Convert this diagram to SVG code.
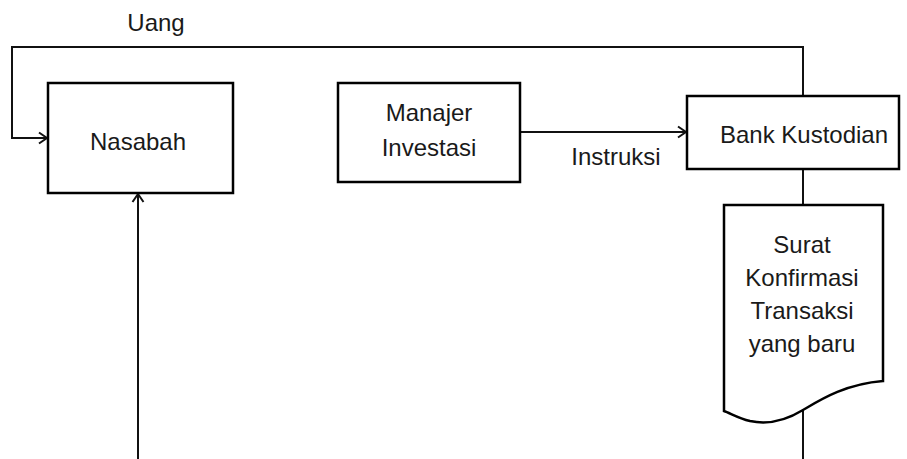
<svg xmlns="http://www.w3.org/2000/svg" width="907" height="459" viewBox="0 0 907 459">
<style>
.box{fill:#fff;stroke:#000;stroke-width:2.5}
.ln{fill:none;stroke:#111;stroke-width:2}
.t{font-family:"Liberation Sans",Arial,sans-serif;font-size:24px;fill:#1a1a1a;text-anchor:middle}
</style>
<defs>
<marker id="ah" markerWidth="14" markerHeight="14" refX="12" refY="7" orient="auto" markerUnits="userSpaceOnUse">
<polyline points="4,1.5 12,7 4,12.5" fill="none" stroke="#111" stroke-width="2"/>
</marker>
</defs>
<rect width="907" height="459" fill="#fff"/>
<g id="connectors">
<polyline class="ln" points="803,96 803,47 12,47 12,138 47,138" marker-end="url(#ah)"/>
<line class="ln" x1="520" y1="132" x2="686" y2="132" marker-end="url(#ah)"/>
<line class="ln" x1="138" y1="459" x2="138" y2="194" marker-end="url(#ah)"/>
<line class="ln" x1="803" y1="169" x2="803" y2="205"/>
<line class="ln" x1="803" y1="410" x2="803" y2="459"/>
<text class="t" x="156" y="31">Uang</text>
<text class="t" x="616" y="165">Instruksi</text>
</g>
<g id="nasabah">
<rect class="box" x="48" y="83" width="185" height="110"/>
<text class="t" x="138" y="150">Nasabah</text>
</g>
<g id="manajer">
<rect class="box" x="338" y="83" width="182" height="99"/>
<text class="t" x="429" y="121">Manajer</text>
<text class="t" x="429" y="156">Investasi</text>
</g>
<g id="bank">
<rect class="box" x="687" y="96" width="212" height="73"/>
<text class="t" x="804" y="143">Bank Kustodian</text>
</g>
<g id="surat">
<path class="box" d="M724,205 H883 V381 C845,384 820,400 803,410 C785,421 768,425 750,421 C738,418 730,413 724,411 Z"/>
<text class="t" x="802" y="253">Surat</text>
<text class="t" x="802" y="286">Konfirmasi</text>
<text class="t" x="802" y="319">Transaksi</text>
<text class="t" x="802" y="352">yang baru</text>
</g>
</svg>
